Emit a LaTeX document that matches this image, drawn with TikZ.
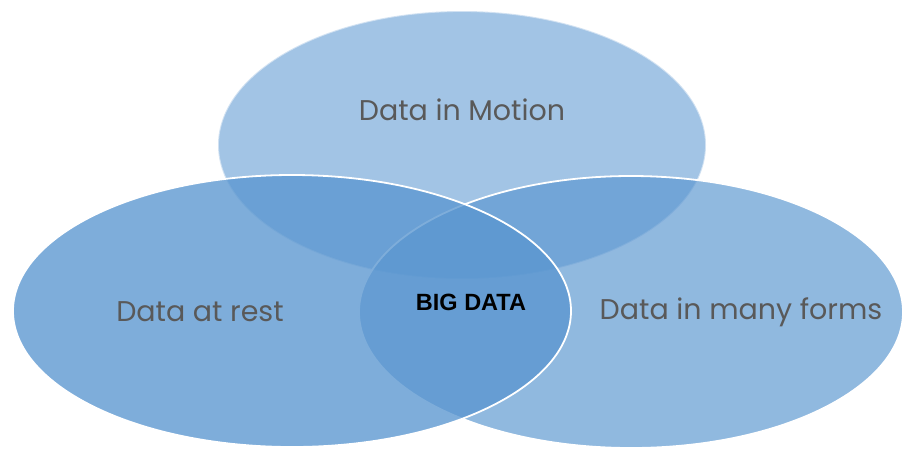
\documentclass[tikz,border=0pt]{standalone}
\usepackage{fontspec}
\setmainfont{Poppins}
\newfontfamily\arialfont{Liberation Sans}
\usetikzlibrary{shapes.geometric}
\definecolor{vennblue}{RGB}{90,150,208}
\definecolor{labelgray}{RGB}{89,89,89}
\tikzset{
  blob/.style={ellipse, fill=vennblue, draw=white, line width=1.8pt,
    inner sep=0pt, outer sep=0pt},
  setlabel/.style={font=\fontsize{28.5}{32}\selectfont, text=labelgray},
  corelabel/.style={font=\arialfont\bfseries\fontsize{23.5}{26}\selectfont, text=black}
}
\begin{document}
\begin{tikzpicture}[x=1pt, y=-1pt]
  \useasboundingbox (0,0) rectangle (904,451);
  % the three sets
  \node[blob, fill opacity=0.56, draw opacity=0.5, minimum width=488pt, minimum height=268pt] (motion) at (462,145) {};
  \node[blob, fill opacity=0.67, minimum width=544pt, minimum height=272pt] (forms) at (631,312) {};
  \node[blob, fill opacity=0.78, minimum width=558pt, minimum height=272pt] (rest) at (292,311) {};
  % labels
  \node[setlabel] (motionlbl) at (462,110) {Data in Motion};
  \node[setlabel] (restlbl) at (200,312) {Data at rest};
  \node[setlabel] (formslbl) at (741,312) {Data in many forms};
  \node[corelabel] (core) at (471,302) {BIG DATA};
\end{tikzpicture}
\end{document}
